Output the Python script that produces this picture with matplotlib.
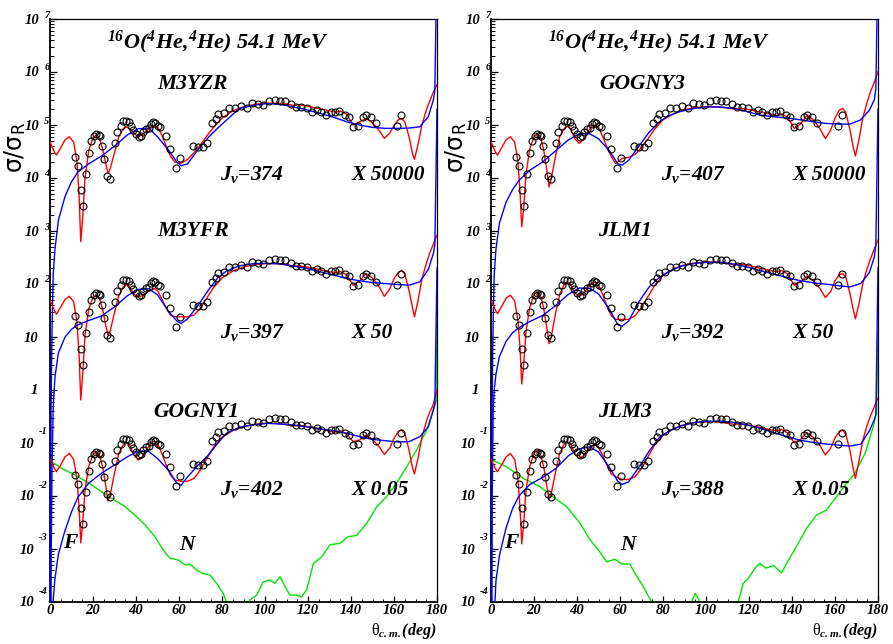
import numpy as np
import matplotlib.pyplot as plt
import matplotlib.transforms as mtransforms
from matplotlib.ticker import FixedLocator, MultipleLocator, NullFormatter

plt.rcParams['mathtext.fontset'] = 'custom'
plt.rcParams['mathtext.rm'] = 'Liberation Serif:italic:bold'
plt.rcParams['mathtext.it'] = 'Liberation Serif:italic:bold'
plt.rcParams['mathtext.bf'] = 'Liberation Serif:italic:bold'
plt.rcParams['mathtext.sf'] = 'DejaVu Sans'
plt.rcParams['mathtext.tt'] = 'Liberation Serif'

# --- experimental points (sigma/sigma_R, unscaled) ---
theta_exp = [11.6, 12.9, 14.3, 15.5, 16.7, 18.0, 19.2, 20.3, 21.5, 22.8,
             23.3, 24.2, 25.3, 26.4, 27.9, 30.2, 31.3, 32.9, 34.1, 35.3,
             36.6, 37.7, 38.8, 40.0, 41.2, 42.5, 43.4, 44.6, 45.9, 46.8,
             48.1, 49.0, 50.1, 51.2, 53.9, 55.8, 58.6, 60.5, 66.7, 68.8,
             71.0, 73.2, 75.5, 77.2, 78.3, 80.9, 83.4, 86.0, 88.7, 91.5,
             94.1, 96.6, 99.2, 102.0, 104.5, 107.0, 109.3, 111.9, 114.4, 116.9,
             119.4, 121.7, 124.0, 126.2, 128.3, 130.5, 132.5, 134.5, 137.2, 139.2,
             141.0, 143.1, 145.4, 147.2, 149.3, 151.4, 161.2, 163.2]
sig_exp = [0.502, 0.340, 0.118, 0.060, 0.240, 0.604, 1.00, 1.23, 1.35, 1.32,
           1.23, 0.815, 0.448, 0.214, 0.191, 0.935, 1.45, 1.91, 2.40, 2.40,
           2.24, 1.95, 1.63, 1.35, 1.21, 1.23, 1.48, 1.66, 1.78, 2.05,
           2.30, 2.19, 1.91, 1.87, 1.26, 0.71, 0.31, 0.48, 0.815, 0.78,
           0.78, 0.935, 2.14, 2.64, 3.24, 3.40, 4.18, 4.18, 4.48, 4.18,
           5.14, 5.02, 4.80, 5.64, 5.90, 5.64, 5.77, 5.02, 4.28, 4.28,
           4.18, 3.56, 3.90, 3.56, 3.03, 3.48, 3.48, 3.72, 3.03, 2.89,
           1.87, 1.91, 2.89, 3.10, 2.89, 2.14, 1.91, 3.10]

# --- full calculation (red) ---
theta_red = [0, 2, 3, 5, 7, 9, 11, 12.5, 13.5, 14.3, 15.2, 16.3, 18, 20, 21.5, 23, 24.5, 26, 27, 28,
             30, 32, 34, 35.5, 37, 39, 41, 43, 45, 47, 48.5, 50, 52, 54, 56, 58, 61, 64, 67, 70,
             73, 76, 80, 85, 90, 95, 100, 105, 110, 113, 116, 120, 125, 130, 133, 135, 138, 141, 144, 147,
             150, 153, 155.5, 158, 160, 162, 163.5, 165, 167, 168.5, 169.5, 171, 173, 175, 176.5, 178, 179, 180]
red_m3yzr = [0.96, 0.62, 0.54, 0.75, 1.05, 1.20, 0.95, 0.42, 0.10, 0.0126, 0.035, 0.20, 0.65, 1.15, 1.29, 1.12, 0.70, 0.36, 0.245, 0.30,
             0.60, 1.20, 1.70, 1.85, 1.70, 1.40, 1.20, 1.32, 1.55, 1.85, 1.99, 1.85, 1.30, 0.80, 0.52, 0.40, 0.38, 0.45, 0.60, 0.85,
             1.25, 1.80, 2.70, 3.70, 4.40, 4.90, 5.10, 5.20, 5.00, 4.70, 4.80, 4.50, 4.10, 3.70, 3.50, 3.65, 3.20, 2.00, 2.30, 2.65,
             2.20, 1.60, 1.12, 1.40, 1.95, 2.50, 2.67, 2.30, 1.20, 0.60, 0.45, 0.80, 2.00, 3.80, 5.50, 7.80, 9.50, 11.4]
red_m3yfr = [0.99, 0.64, 0.54, 0.74, 1.02, 1.17, 0.92, 0.40, 0.10, 0.013, 0.04, 0.22, 0.67, 1.12, 1.23, 1.08, 0.66, 0.32, 0.215, 0.26,
             0.58, 1.20, 1.75, 1.95, 1.75, 1.30, 1.14, 1.20, 1.40, 1.58, 1.64, 1.50, 1.05, 0.70, 0.52, 0.48, 0.48, 0.48, 0.52, 0.70,
             1.10, 1.70, 2.60, 3.50, 4.20, 4.60, 4.86, 4.86, 4.60, 4.30, 4.40, 4.15, 3.75, 3.40, 3.25, 3.45, 3.00, 1.89, 2.30, 3.15,
             2.60, 1.80, 1.17, 1.60, 2.50, 3.30, 3.60, 3.10, 1.50, 0.75, 0.48, 0.90, 2.50, 4.80, 7.50, 10.5, 13.5, 16.8]
red_gogny1 = [0.98, 0.67, 0.575, 0.77, 1.10, 1.28, 0.98, 0.43, 0.126, 0.026, 0.061, 0.26, 0.71, 1.22, 1.37, 1.19, 0.71, 0.30, 0.161, 0.21,
              0.54, 1.28, 1.83, 2.06, 1.83, 1.19, 0.955, 1.10, 1.52, 1.97, 2.18, 1.97, 1.28, 0.77, 0.50, 0.40, 0.38, 0.38, 0.43, 0.62,
              1.03, 1.66, 2.56, 3.42, 4.07, 4.50, 4.70, 4.70, 4.43, 4.19, 4.31, 4.07, 3.72, 3.36, 3.22, 3.42, 2.96, 2.12, 2.28, 2.83,
              2.35, 1.71, 1.22, 1.59, 2.45, 3.27, 3.52, 3.04, 1.47, 0.71, 0.52, 0.955, 2.6, 5.0, 7.5, 10.0, 14.0, 20.0]
red_gogny3 = [0.96, 0.62, 0.54, 0.75, 1.05, 1.20, 0.95, 0.42, 0.11, 0.024, 0.055, 0.24, 0.70, 1.22, 1.38, 1.18, 0.68, 0.27, 0.136, 0.19,
              0.52, 1.22, 1.72, 1.90, 1.70, 1.10, 0.90, 1.05, 1.50, 1.88, 1.99, 1.80, 1.20, 0.75, 0.50, 0.375, 0.47, 0.49, 0.56, 0.75,
              1.10, 1.65, 2.50, 3.30, 3.90, 4.25, 4.41, 4.41, 4.20, 4.00, 4.10, 3.90, 3.55, 3.20, 3.05, 3.25, 2.80, 1.72, 2.10, 3.07,
              2.50, 1.70, 1.11, 1.60, 2.70, 3.80, 4.10, 3.50, 1.60, 0.75, 0.52, 1.00, 2.80, 5.50, 8.50, 12.0, 15.5, 20.2]
red_jlm1 = [1.00, 0.65, 0.55, 0.76, 1.08, 1.23, 0.96, 0.42, 0.125, 0.026, 0.06, 0.26, 0.72, 1.25, 1.42, 1.22, 0.70, 0.29, 0.15, 0.20,
            0.55, 1.30, 1.95, 2.19, 1.95, 1.35, 1.17, 1.30, 1.70, 2.05, 2.19, 1.95, 1.25, 0.75, 0.50, 0.43, 0.43, 0.43, 0.50, 0.72,
            1.15, 1.85, 2.90, 3.90, 4.60, 5.00, 5.20, 5.20, 4.90, 4.60, 4.70, 4.45, 4.00, 3.60, 3.40, 3.60, 3.10, 1.89, 2.20, 2.80,
            2.30, 1.65, 1.11, 1.45, 2.30, 3.00, 3.15, 2.70, 1.30, 0.65, 0.44, 0.80, 2.10, 4.00, 6.00, 8.50, 11.0, 13.4]
red_jlm3 = [0.98, 0.66, 0.575, 0.78, 1.10, 1.27, 0.98, 0.43, 0.12, 0.025, 0.06, 0.26, 0.72, 1.26, 1.43, 1.22, 0.71, 0.30, 0.17, 0.22,
            0.56, 1.30, 1.90, 2.12, 1.90, 1.25, 1.03, 1.15, 1.50, 1.76, 1.83, 1.65, 1.15, 0.75, 0.52, 0.46, 0.41, 0.41, 0.46, 0.66,
            1.10, 1.80, 2.80, 3.75, 4.45, 4.85, 5.00, 5.00, 4.75, 4.50, 4.60, 4.35, 3.95, 3.55, 3.40, 3.60, 3.10, 2.03, 2.35, 3.13,
            2.55, 1.80, 1.19, 1.60, 2.50, 3.30, 3.50, 2.95, 1.40, 0.65, 0.43, 0.85, 2.30, 4.40, 6.50, 9.00, 11.5, 13.9]

# --- far-side component (blue) ---
theta_blue = [0, 0.5, 1.0, 1.5, 2.3, 3.9, 7, 10, 13, 18, 24, 30, 36, 41, 46, 50, 55, 59, 61, 64,
              69, 73.5, 78, 82, 88, 95, 101, 107, 113, 119, 125, 132, 138, 144, 150, 156, 162, 167, 172, 176,
              178.3, 179, 180]
blue_m3yzr = [1e-12, 1e-5, 4e-4, 0.003, 0.009, 0.032, 0.09, 0.17, 0.26, 0.37, 0.52, 0.80, 1.30, 1.70, 1.74, 1.20, 0.68, 0.40, 0.34, 0.37,
              0.70, 1.15, 1.75, 2.46, 4.1, 4.7, 5.1, 4.9, 4.4, 3.9, 3.35, 2.8, 2.3, 2.0, 1.80, 1.73, 1.73, 1.75, 1.85, 2.9,
              5.9, 9.0, 4000]
blue_m3yfr = [1e-12, 1e-5, 1e-3, 0.0095, 0.035, 0.10, 0.20, 0.28, 0.34, 0.41, 0.50, 0.74, 1.20, 1.58, 1.62, 1.25, 0.62, 0.40, 0.36, 0.44,
              0.80, 1.5, 2.6, 3.5, 4.4, 4.86, 4.9, 4.8, 4.4, 3.95, 3.45, 2.95, 2.53, 2.3, 2.12, 2.04, 1.95, 1.90, 2.2, 3.8,
              7.5, 11.0, 4000]
blue_gogny1 = [1e-12, 1e-5, 3e-4, 0.0022, 0.0055, 0.016, 0.045, 0.10, 0.19, 0.35, 0.54, 0.77, 1.10, 1.41, 1.38, 1.02, 0.62, 0.35, 0.32, 0.46,
               0.77, 1.17, 1.97, 3.04, 3.95, 4.43, 4.70, 4.57, 4.38, 4.07, 3.72, 3.42, 3.04, 2.63, 2.34, 2.21, 2.09, 2.12, 2.63, 4.07,
               8.4, 11.0, 4000]
blue_gogny3 = [1e-12, 1e-5, 4e-4, 0.003, 0.009, 0.028, 0.07, 0.12, 0.18, 0.28, 0.40, 0.65, 1.05, 1.36, 1.36, 1.10, 0.66, 0.37, 0.35, 0.43,
               0.82, 1.45, 2.25, 2.9, 3.6, 4.15, 4.4, 4.35, 4.1, 3.6, 3.07, 2.85, 2.7, 2.5, 2.3, 2.14, 2.08, 2.08, 2.5, 3.8,
               6.0, 9.5, 4000]
blue_jlm1 = [1e-12, 1e-4, 0.008, 0.02, 0.04, 0.085, 0.165, 0.24, 0.30, 0.39, 0.51, 0.78, 1.28, 1.68, 1.65, 1.30, 0.68, 0.34, 0.32, 0.40,
             0.95, 1.75, 2.6, 3.3, 4.3, 4.9, 5.15, 5.15, 4.75, 4.2, 3.6, 3.05, 2.62, 2.3, 2.1, 1.98, 1.85, 1.76, 2.05, 3.3,
             6.5, 11.0, 4000]
blue_jlm3 = [1e-12, 1e-6, 1e-4, 0.001, 0.005, 0.015, 0.05, 0.115, 0.2, 0.33, 0.45, 0.65, 1.15, 1.55, 1.70, 1.35, 0.70, 0.38, 0.33, 0.37,
             0.72, 1.40, 2.45, 3.2, 4.2, 4.9, 5.15, 5.15, 4.9, 4.4, 3.8, 3.1, 2.6, 2.25, 2.05, 1.91, 1.82, 1.75, 1.9, 3.4,
             5.5, 7.0, 4000]

# --- near-side component (green), only drawn for the lowest curve ---
theta_near_l = [0, 5.4, 11.6, 17.8, 24, 28.7, 34.9, 39.5, 44.2, 48.8,
                52.7, 55.8, 59.7, 62.8, 65.1, 68.2, 71.3, 74.4, 77.5, 80.6,
                82.2, 87, 93, 96.1, 99.2, 102.3, 104.5, 107, 109.3, 111.6,
                114.7, 117, 119.4, 122.5, 126.4, 130.2, 134.9, 138.7, 142.6, 147.3,
                152, 156.6, 161.2, 165.9, 170.5, 175.2, 179.8, 180]
near_gogny1 = [0.93, 0.665, 0.50, 0.356, 0.24, 0.18, 0.126, 0.087, 0.057, 0.034,
               0.019, 0.0134, 0.0124, 0.0100, 0.0104, 0.0080, 0.0069, 0.0064, 0.0045, 0.0029,
               0.0019, 0.0007, 0.0022, 0.0027, 0.0048, 0.0052, 0.0045, 0.0060, 0.0039, 0.0027,
               0.0027, 0.0025, 0.0034, 0.0107, 0.0142, 0.024, 0.0257, 0.034, 0.036, 0.061,
               0.126, 0.195, 0.35, 0.71, 1.48, 3.5, 13, 390]
theta_near_r = [0, 7.3, 15, 22.8, 29, 35.2, 41.4, 46, 50, 53.8,
                57.7, 60.8, 64.6, 67, 70.8, 74.7, 76.3, 85, 93.3, 94.9,
                96.4, 98, 100.3, 102, 108, 115, 117.3, 119.7, 122.8, 125,
                128, 131.3, 135.2, 137.5, 142, 146.8, 151.4, 156, 160.7, 165.4,
                169.3, 174, 177.8, 179.3, 180]
near_jlm3 = [0.98, 0.71, 0.43, 0.30, 0.19, 0.126, 0.061, 0.030, 0.019, 0.0115,
             0.0128, 0.0104, 0.0104, 0.0069, 0.0039, 0.0020, 0.0012, 0.0006, 0.0020, 0.0029,
             0.0023, 0.0016, 0.0020, 0.0012, 0.0006, 0.0020, 0.0045, 0.0056, 0.0087, 0.0107,
             0.0087, 0.0098, 0.0071, 0.0107, 0.022, 0.049, 0.087, 0.109, 0.194, 0.35,
             0.54, 1.28, 4.1, 7.3, 270]

scales = [50000, 50, 0.05]
scale_labels = ['X 50000', 'X 50', 'X 0.05']
models_l = ['M3YZR', 'M3YFR', 'GOGNY1']
models_r = ['GOGNY3', 'JLM1', 'JLM3']
jv_l = [374, 397, 402]
jv_r = [407, 392, 388]

TXT = dict(family='Liberation Serif', weight='bold', style='italic')
NAME_X = {'M3YZR': 0.368, 'M3YFR': 0.370, 'GOGNY1': 0.379,
          'GOGNY3': 0.391, 'JLM1': 0.345, 'JLM3': 0.345}


def decade_labels(ax):
    # ROOT style: "10" and a raised exponent, drawn as two texts
    fig = ax.figure
    tr = ax.get_yaxis_transform()
    px = 1.0 / 387  # one pixel in axes units
    for k in range(-4, 8):
        y = 10.0 ** k
        base = mtransforms.offset_copy(tr, fig=fig, x=0, y=-4.5, units='dots')
        if k == 0:
            ax.text(-12 * px, y, '1', transform=base, ha='right', va='baseline', fontsize=10.5, **TXT)
            continue
        if k == 1:
            ax.text(-12 * px, y, '10', transform=base, ha='right', va='baseline', fontsize=10.5, **TXT)
            continue
        if k > 0:
            ten_right, exp_right, rise = -11 * px, -0.5 * px, 1.5
        else:
            ten_right, exp_right, rise = -16 * px, -2.5 * px, 8.5
        ax.text(ten_right, y, '10', transform=base, ha='right', va='baseline', fontsize=10.5, **TXT)
        up = mtransforms.offset_copy(tr, fig=fig, x=0, y=rise, units='dots')
        ax.text(exp_right, y, str(k), transform=up, ha='right', va='baseline', fontsize=7.5, **TXT)


def draw_panel(ax, models, jv, reds, blues, theta_near, near):
    for i, sc in enumerate(scales):
        ax.plot(theta_red, np.array(reds[i]) * sc, color='#ff0000', lw=1.0, zorder=3)
        ax.plot(theta_blue, np.array(blues[i]) * sc, color='#0000ff', lw=1.0, zorder=3)
    ax.plot(theta_near, np.array(near) * scales[2], color='#00e600', lw=1.0, zorder=2)
    for sc in scales:
        ax.plot(theta_exp, np.array(sig_exp) * sc, 'o', mfc='none', mec='black',
                ms=5.0, mew=0.8, zorder=4)

    ax.set_yscale('log')
    ax.set_xlim(0, 180)
    ax.set_ylim(1e-4, 1e7)

    ax.yaxis.set_major_locator(FixedLocator([10.0 ** k for k in range(-4, 8)]))
    ax.yaxis.set_minor_locator(FixedLocator([m * 10.0 ** k for k in range(-4, 7) for m in range(2, 10)]))
    ax.yaxis.set_major_formatter(NullFormatter())
    ax.yaxis.set_minor_formatter(NullFormatter())
    ax.xaxis.set_minor_locator(MultipleLocator(5))
    ax.set_xticks(range(0, 181, 20))
    ax.set_xticklabels([str(v) for v in range(0, 181, 20)], fontsize=10.5, **TXT)
    ax.tick_params(axis='y', which='major', direction='in', length=5, width=0.9, left=True, right=False)
    ax.tick_params(axis='y', which='minor', direction='in', length=2.8, width=0.7, left=True, right=False)
    ax.tick_params(axis='x', which='major', direction='in', length=4.3, width=0.9, pad=1.5, top=False)
    ax.tick_params(axis='x', which='minor', direction='in', length=2.2, width=0.7, top=False)

    for s in ['left', 'bottom']:
        ax.spines[s].set_linewidth(1.3)
    for s in ['top', 'right']:
        ax.spines[s].set_linewidth(0.9)

    decade_labels(ax)

    ax.text(0.433, 0.950, r'$^{16}$O($^{4}$He,$^{4}$He) 54.1 MeV', transform=ax.transAxes,
            ha='center', va='baseline', fontsize=16, **TXT)
    name_y = [0.880, 0.628, 0.318]
    jv_y = [0.724, 0.452, 0.1835]
    for i in range(3):
        ax.text(NAME_X[models[i]], name_y[i], models[i], transform=ax.transAxes,
                ha='center', va='baseline', fontsize=15.5, **TXT)
        ax.text(0.44, jv_y[i], r'$J_{v}$=%d' % jv[i], transform=ax.transAxes,
                ha='left', va='baseline', fontsize=15.5, **TXT)
        ax.text(0.78, jv_y[i], scale_labels[i], transform=ax.transAxes,
                ha='left', va='baseline', fontsize=15.5, **TXT)
    ax.text(0.034, 0.092, 'F', transform=ax.transAxes, ha='left', va='baseline', fontsize=15.5, **TXT)
    ax.text(0.335, 0.089, 'N', transform=ax.transAxes, ha='left', va='baseline', fontsize=15.5, **TXT)

    ax.text(-0.089, 0.779, 'σ/σ$_{\\mathsf{R}}$', transform=ax.transAxes, rotation=90,
            ha='center', va='center', family='DejaVu Sans', fontsize=17)
    ax.text(1.0, -0.057, r'$\mathtt{\theta}_{c.m.}$(deg)', transform=ax.transAxes,
            ha='right', va='baseline', fontsize=11.5, **TXT)


fig = plt.figure(figsize=(8.93, 6.44), dpi=100)
ax_l = fig.add_axes([50 / 893, 42 / 644, 387 / 893, 583 / 644])
ax_r = fig.add_axes([491 / 893, 42 / 644, 387 / 893, 583 / 644])

draw_panel(ax_l, models_l, jv_l, [red_m3yzr, red_m3yfr, red_gogny1],
           [blue_m3yzr, blue_m3yfr, blue_gogny1], theta_near_l, near_gogny1)
draw_panel(ax_r, models_r, jv_r, [red_gogny3, red_jlm1, red_jlm3],
           [blue_gogny3, blue_jlm1, blue_jlm3], theta_near_r, near_jlm3)

fig.savefig('out.png', dpi=100)
